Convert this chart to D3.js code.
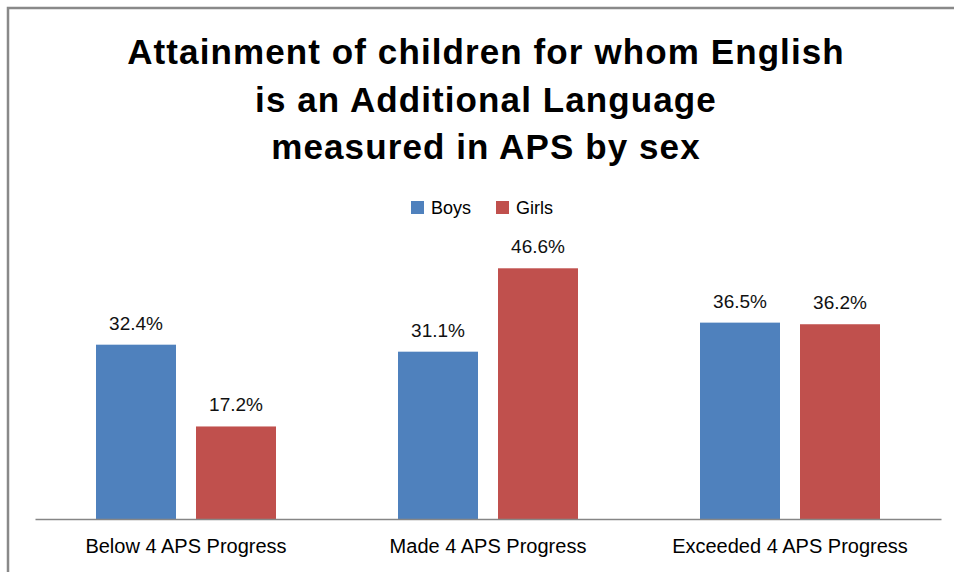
<!DOCTYPE html>
<html>
<head>
<meta charset="utf-8">
<script src="https://cdn.jsdelivr.net/npm/d3@7"></script>
<style>
  body { margin: 0; background: #fff; }
  text { font-family: "Liberation Sans", Arial, sans-serif; }
</style>
</head>
<body>
<div id="wrapper"></div>
<script>
// data
const categories = ["Below 4 APS Progress", "Made 4 APS Progress", "Exceeded 4 APS Progress"];
const seriesNames = ["Boys", "Girls"];
const boysValues = [32.4, 31.1, 36.5];
const girlsValues = [17.2, 46.6, 36.2];
const seriesColors = ["#4F81BD", "#C0504D"];
const titleLines = [
  "Attainment of children for whom English",
  "is an Additional Language",
  "measured in APS by sex",
];

function drawChart() {
  const dimensions = {
    width: 954,
    height: 572,
    margin: { top: 250, right: 13, bottom: 53, left: 35 },
  };
  dimensions.boundedWidth =
    dimensions.width - dimensions.margin.left - dimensions.margin.right;
  dimensions.boundedHeight =
    dimensions.height - dimensions.margin.top - dimensions.margin.bottom;

  const svg = d3.select("#wrapper")
    .append("svg")
    .attr("width", dimensions.width)
    .attr("height", dimensions.height);

  // chart frame
  svg.append("rect")
    .attr("x", 8)
    .attr("y", 8)
    .attr("width", 1000)
    .attr("height", 700)
    .attr("fill", "none")
    .attr("stroke", "#898989")
    .attr("stroke-width", 2.5);

  // title
  svg.append("g")
    .selectAll("text")
    .data(titleLines)
    .join("text")
    .attr("x", 486)
    .attr("y", (d, i) => 64 + i * 47.5)
    .attr("text-anchor", "middle")
    .style("font-size", "35px")
    .style("font-weight", "bold")
    .style("letter-spacing", "1.1px")
    .attr("fill", "#000")
    .text((d) => d);

  // legend
  const legendX = [411, 496];
  const legend = svg.append("g")
    .selectAll("g")
    .data(seriesNames)
    .join("g")
    .attr("transform", (d, i) => `translate(${legendX[i]}, 201)`);
  legend.append("rect")
    .attr("width", 13)
    .attr("height", 13)
    .attr("fill", (d, i) => seriesColors[i]);
  legend.append("text")
    .attr("x", 20)
    .attr("y", 12.5)
    .style("font-size", "18px")
    .attr("fill", "#000")
    .text((d) => d);

  const bounds = svg.append("g")
    .attr("transform", `translate(${dimensions.margin.left}, ${dimensions.margin.top})`);

  // scales
  const x0 = d3.scaleBand()
    .domain(categories)
    .range([0, dimensions.boundedWidth]);

  const groupWidth = 180;
  const x1 = d3.scaleBand()
    .domain(seriesNames)
    .range([(x0.bandwidth() - groupWidth) / 2, (x0.bandwidth() + groupWidth) / 2])
    .paddingInner(0.2);

  const y = d3.scaleLinear()
    .domain([0, 50])
    .range([dimensions.boundedHeight, 0]);

  const rows = categories.map((c, i) => ({
    category: c,
    values: [
      { series: "Boys", value: boysValues[i], color: seriesColors[0] },
      { series: "Girls", value: girlsValues[i], color: seriesColors[1] },
    ],
  }));

  // bars
  const groups = bounds.selectAll(".group")
    .data(rows)
    .join("g")
    .attr("class", "group")
    .attr("transform", (d) => `translate(${x0(d.category)}, 0)`);

  groups.selectAll("rect")
    .data((d) => d.values)
    .join("rect")
    .attr("x", (d) => x1(d.series))
    .attr("width", x1.bandwidth())
    .attr("y", (d) => y(d.value))
    .attr("height", (d) => y(0) - y(d.value))
    .attr("fill", (d) => d.color);

  groups.selectAll("text")
    .data((d) => d.values)
    .join("text")
    .attr("x", (d) => x1(d.series) + x1.bandwidth() / 2)
    .attr("y", (d) => y(d.value) - 15)
    .attr("text-anchor", "middle")
    .style("font-size", "19px")
    .attr("fill", "#111")
    .text((d) => d.value.toFixed(1) + "%");

  // x axis
  const xAxis = bounds.append("g")
    .attr("transform", `translate(0, ${dimensions.boundedHeight})`)
    .call(d3.axisBottom(x0).tickSize(0).tickPadding(0));
  xAxis.select(".domain")
    .attr("stroke", "#868686")
    .attr("stroke-width", 1.5);
  xAxis.selectAll(".tick text")
    .attr("y", 34)
    .attr("dy", null)
    .style("font-size", "20px")
    .style("font-family", "'Liberation Sans', Arial, sans-serif")
    .attr("fill", "#000");
}

drawChart();
</script>
</body>
</html>
